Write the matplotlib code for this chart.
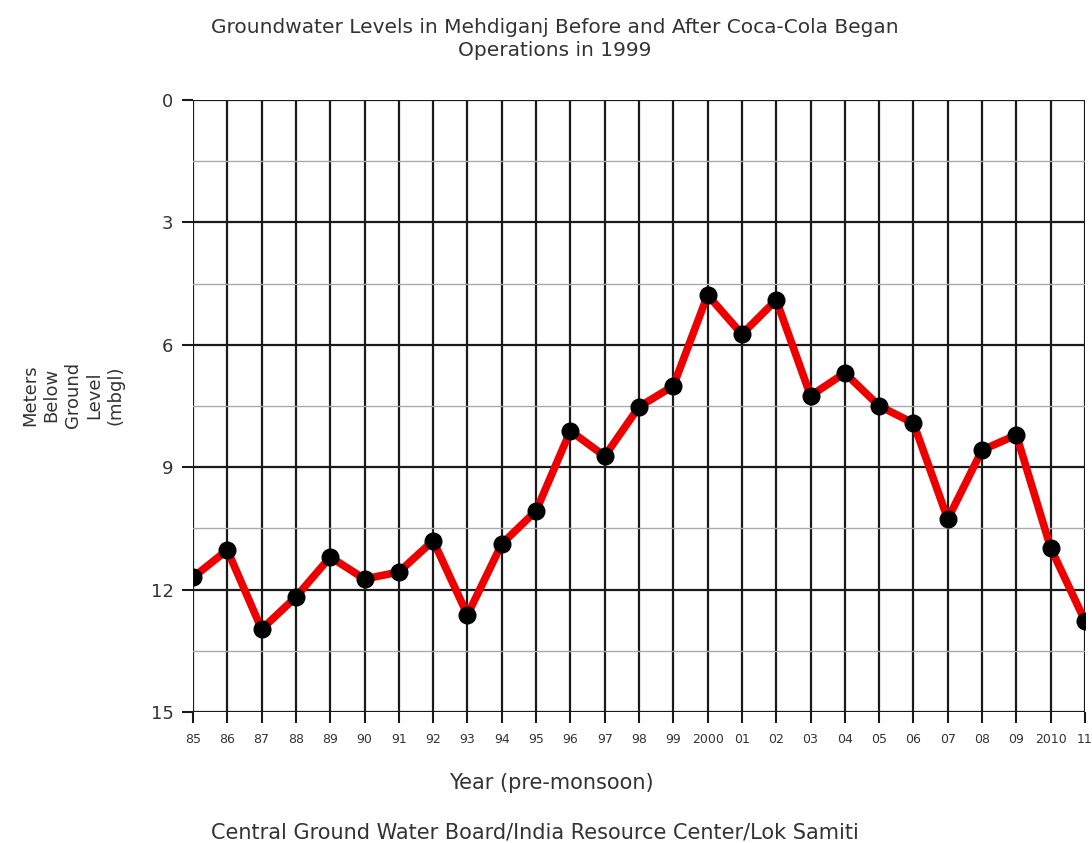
import matplotlib.pyplot as plt
import numpy as np
from matplotlib.ticker import MultipleLocator

FIG_W = 10.92
FIG_H = 8.43
FIG_DPI = 100

year_labels = ['85', '86', '87', '88', '89', '90', '91', '92', '93', '94', '95', '96', '97',
               '98', '99', '2000', '01', '02', '03', '04', '05', '06', '07', '08', '09',
               '2010', '11']
depth_mbgl = [11.7, 11.03, 12.97, 12.18, 11.2, 11.74, 11.57, 10.8, 12.62, 10.88, 10.07,
              8.11, 8.73, 7.52, 7.01, 4.78, 5.74, 4.9, 7.25, 6.69, 7.5, 7.92, 10.27,
              8.58, 8.21, 10.98, 12.77]

text_col = '#333333'
x = np.arange(len(year_labels))

fig = plt.figure(figsize=(FIG_W, FIG_H), dpi=FIG_DPI)
ax = fig.add_axes([193 / 1092, 1 - 712 / 843, (1085 - 193) / 1092, (712 - 100) / 843])

# grid: dark at every year and every 3 m, light at the half steps
for xi in x:
    ax.axvline(xi, color='#1a1a1a', lw=1.6, zorder=1)
for yv in np.arange(0, 16, 3):
    ax.axhline(yv, color='#1a1a1a', lw=1.6, zorder=1)
for yv in np.arange(1.5, 15, 3):
    ax.axhline(yv, color='#aaaaaa', lw=1.0, zorder=1)

ax.plot(x, depth_mbgl, color='#ee0000', lw=5.5, zorder=3, solid_capstyle='round')
ax.plot(x, depth_mbgl, 'o', color='black', ms=12, zorder=4)

ax.set_xlim(0, len(year_labels) - 1)
ax.set_ylim(15, 0)
ax.set_xticks(x)
ax.set_xticklabels(year_labels, fontsize=9, color=text_col)
ax.yaxis.set_major_locator(MultipleLocator(3))
ax.tick_params(axis='y', labelsize=13, colors=text_col, length=8, width=1.5, pad=6)
ax.tick_params(axis='y', which='major', color='#1a1a1a')
ax.tick_params(axis='x', length=8, width=1.5, color='#1a1a1a', pad=7)
for s in ax.spines.values():
    s.set_visible(False)

fig.text(555 / 1092, 1 - 39 / 843, 'Groundwater Levels in Mehdiganj Before and After Coca-Cola Began\nOperations in 1999',
         ha='center', va='center', fontsize=14.5, color=text_col, linespacing=1.3)
fig.text(551 / 1092, 1 - 783 / 843, 'Year (pre-monsoon)', ha='center', va='center',
         fontsize=15, color=text_col)
fig.text(535 / 1092, 1 - 832 / 843, 'Central Ground Water Board/India Resource Center/Lok Samiti',
         ha='center', va='center', fontsize=15, color=text_col)
fig.text(73 / 1092, 1 - 395 / 843, 'Meters\nBelow\nGround\nLevel\n(mbgl)', ha='center', va='center',
         rotation=90, fontsize=13, color=text_col, linespacing=1.25)

plt.savefig('out.png', dpi=FIG_DPI)
plt.close()
